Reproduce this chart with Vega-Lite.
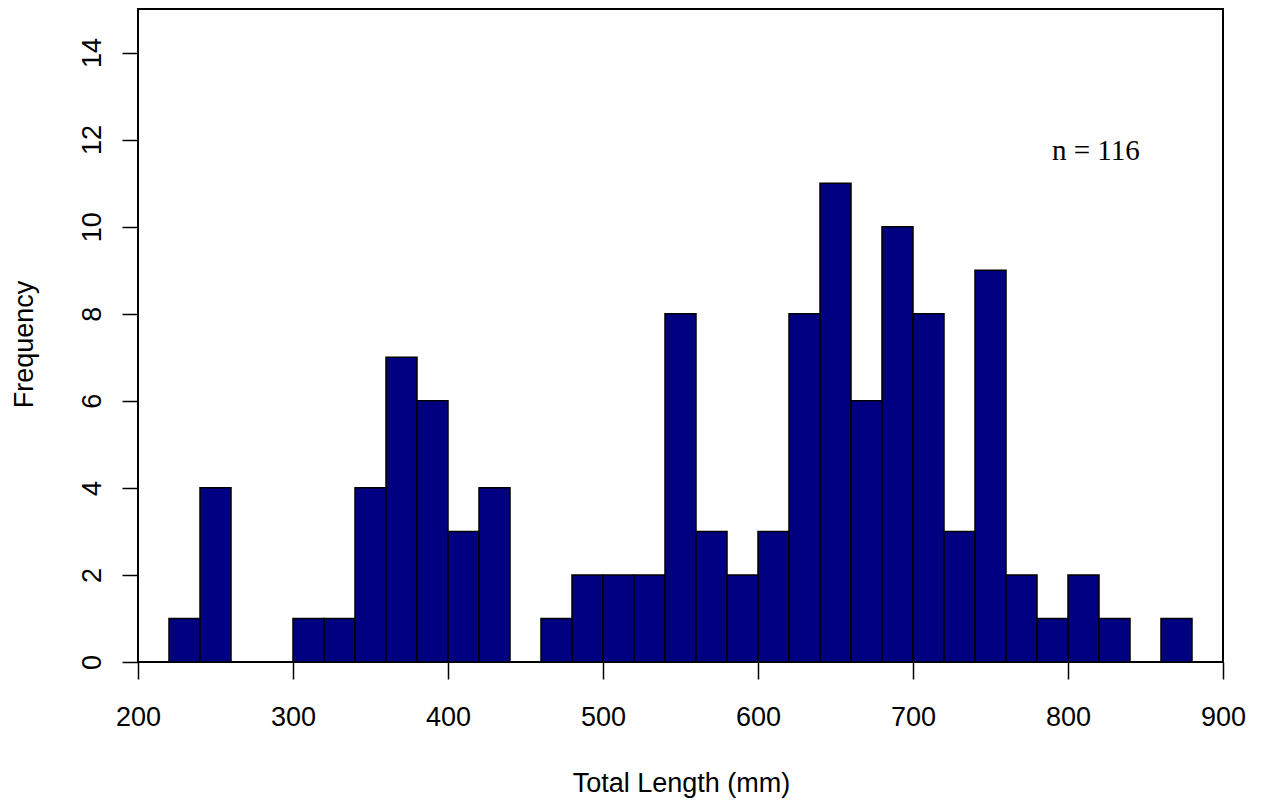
{
  "$schema": "https://vega.github.io/schema/vega-lite/v6.json",
  "width": 1085,
  "height": 653,
  "autosize": {"type": "none"},
  "padding": {"left": 138, "top": 9, "right": 41, "bottom": 141},
  "background": "white",
  "config": {
    "view": {"stroke": "black", "strokeWidth": 2},
    "axis": {
      "labelFont": "Liberation Sans",
      "titleFont": "Liberation Sans",
      "grid": false,
      "domain": false,
      "tickColor": "black",
      "tickWidth": 1.5,
      "labelColor": "black",
      "titleColor": "black",
      "labelFontSize": 27,
      "titleFontSize": 27,
      "titleFontWeight": "normal",
      "labelOverlap": false,
      "labelFlush": false
    }
  },
  "layer": [
    {
      "data": {
        "values": [
          {"bin_start": 220, "bin_end": 240, "count": 1},
          {"bin_start": 240, "bin_end": 260, "count": 4},
          {"bin_start": 260, "bin_end": 280, "count": 0},
          {"bin_start": 280, "bin_end": 300, "count": 0},
          {"bin_start": 300, "bin_end": 320, "count": 1},
          {"bin_start": 320, "bin_end": 340, "count": 1},
          {"bin_start": 340, "bin_end": 360, "count": 4},
          {"bin_start": 360, "bin_end": 380, "count": 7},
          {"bin_start": 380, "bin_end": 400, "count": 6},
          {"bin_start": 400, "bin_end": 420, "count": 3},
          {"bin_start": 420, "bin_end": 440, "count": 4},
          {"bin_start": 440, "bin_end": 460, "count": 0},
          {"bin_start": 460, "bin_end": 480, "count": 1},
          {"bin_start": 480, "bin_end": 500, "count": 2},
          {"bin_start": 500, "bin_end": 520, "count": 2},
          {"bin_start": 520, "bin_end": 540, "count": 2},
          {"bin_start": 540, "bin_end": 560, "count": 8},
          {"bin_start": 560, "bin_end": 580, "count": 3},
          {"bin_start": 580, "bin_end": 600, "count": 2},
          {"bin_start": 600, "bin_end": 620, "count": 3},
          {"bin_start": 620, "bin_end": 640, "count": 8},
          {"bin_start": 640, "bin_end": 660, "count": 11},
          {"bin_start": 660, "bin_end": 680, "count": 6},
          {"bin_start": 680, "bin_end": 700, "count": 10},
          {"bin_start": 700, "bin_end": 720, "count": 8},
          {"bin_start": 720, "bin_end": 740, "count": 3},
          {"bin_start": 740, "bin_end": 760, "count": 9},
          {"bin_start": 760, "bin_end": 780, "count": 2},
          {"bin_start": 780, "bin_end": 800, "count": 1},
          {"bin_start": 800, "bin_end": 820, "count": 2},
          {"bin_start": 820, "bin_end": 840, "count": 1},
          {"bin_start": 840, "bin_end": 860, "count": 0},
          {"bin_start": 860, "bin_end": 880, "count": 1}
        ]
      },
      "mark": {"type": "bar", "fill": "#000080", "stroke": "black", "strokeWidth": 1.5},
      "encoding": {
        "x": {
          "field": "bin_start",
          "type": "quantitative",
          "scale": {"domain": [200, 900], "nice": false, "zero": false},
          "axis": {
            "values": [200, 300, 400, 500, 600, 700, 800, 900],
            "tickSize": 17,
            "labelPadding": 46,
            "labelBaseline": "alphabetic",
            "labelAlign": "center",
            "title": "Total Length (mm)",
            "titleX": 543,
            "titleY": 129,
            "titleBaseline": "alphabetic",
            "titleAlign": "center"
          }
        },
        "x2": {"field": "bin_end"},
        "y": {
          "field": "count",
          "type": "quantitative",
          "scale": {"domain": [0, 15], "nice": false},
          "axis": {
            "values": [0, 2, 4, 6, 8, 10, 12, 14],
            "tickSize": 16,
            "labelAngle": 270,
            "labelAlign": "center",
            "labelBaseline": "alphabetic",
            "labelPadding": 22,
            "title": "Frequency",
            "titleX": -106,
            "titleY": 335,
            "titleAngle": 270,
            "titleBaseline": "alphabetic",
            "titleAlign": "center"
          }
        },
        "y2": {"datum": 0}
      }
    },
    {
      "data": {"values": [{"x": 818, "y": 11.53, "label": "n = 116"}]},
      "mark": {"type": "text", "font": "Liberation Serif", "fontSize": 29, "align": "center", "baseline": "alphabetic", "color": "black"},
      "encoding": {
        "x": {"field": "x", "type": "quantitative"},
        "y": {"field": "y", "type": "quantitative"},
        "text": {"field": "label"}
      }
    }
  ]
}
